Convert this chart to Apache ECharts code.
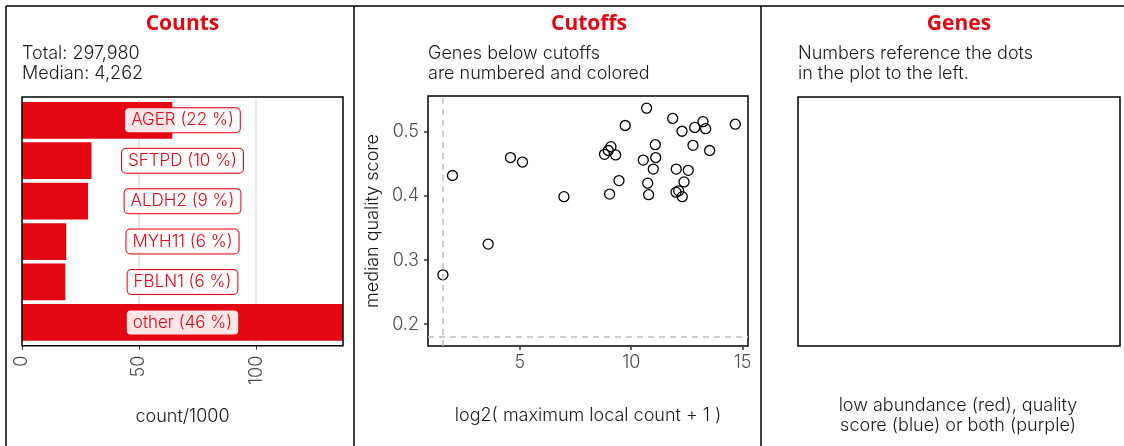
<!DOCTYPE html>
<html>
<head>
<meta charset="utf-8">
<script src="https://cdn.jsdelivr.net/npm/echarts@6/dist/echarts.min.js"></script>
<style>
  html, body { margin: 0; padding: 0; background: #fff; }
  #main { width: 1124px; height: 446px; }
</style>
</head>
<body>
<div id="main"></div>
<script>
// panel 1: counts per gene (count/1000)
var geneNames = ['AGER', 'SFTPD', 'ALDH2', 'MYH11', 'FBLN1', 'other'];
var geneCounts = [64.2, 29.7, 28.2, 18.9, 18.5, 137.1];
var genePercents = [22, 10, 9, 6, 6, 46];
var countTicks = [0, 50, 100];

// panel 2: cutoffs scatter
var logCounts = [1.55, 1.98, 3.58, 4.58, 5.12, 6.98,
    10.69, 9.73, 11.86, 12.28, 12.85, 13.22, 13.34, 14.67,
    11.08, 12.77, 13.52, 9.09, 8.97, 8.80, 9.30, 10.54,
    11.10, 10.99, 12.02, 12.56, 9.45, 10.74, 12.37, 9.03,
    10.78, 12.01, 12.13, 12.29];
var qualityScores = [0.277, 0.432, 0.325, 0.460, 0.453, 0.399,
    0.537, 0.510, 0.521, 0.501, 0.507, 0.516, 0.505, 0.512,
    0.480, 0.479, 0.471, 0.477, 0.471, 0.465, 0.464, 0.456,
    0.460, 0.442, 0.442, 0.440, 0.424, 0.420, 0.422, 0.403,
    0.402, 0.406, 0.408, 0.399];
var cutoffCount = 1.55;
var cutoffQuality = 0.184;
var xTicks = [5, 10, 15];
var yTicks = [0.2, 0.3, 0.4, 0.5];

var red = '#e30613';
var font = 'Inter';

var myChart = echarts.init(document.getElementById('main'));

var scatterData = [];
for (var i = 0; i < logCounts.length; i++) {
    scatterData.push([logCounts[i], qualityScores[i]]);
}
var labelData = [];
for (var i = 0; i < geneNames.length; i++) {
    labelData.push([137.1 / 2, geneNames[i]]);
}

function txt(x, y, text, opt) {
    return {
        type: 'text', x: x, y: y, z: 100,
        style: Object.assign({
            text: text, fill: '#1a1a1a', font: '300 18px "' + font + '"',
            lineHeight: 20, textAlign: 'left', textVerticalAlign: 'top'
        }, opt || {})
    };
}
function title(x, text) {
    return txt(x, 24, text, {
        fill: red, font: 'bold 21px "Open Sans"',
        textAlign: 'center', textVerticalAlign: 'middle'
    });
}
function vline(x) {
    return { type: 'line', z: 100, shape: { x1: x, y1: 6, x2: x, y2: 446 }, style: { stroke: '#000', lineWidth: 1.5 } };
}

var axisName = { fontSize: 18, fontWeight: 300, color: '#1a1a1a', fontFamily: font };
var tickLabel = { fontSize: 18, fontWeight: 300, color: '#4d4d4d', fontFamily: font };

var option = {
    animation: false,
    textStyle: { fontFamily: font },
    grid: [
        { left: 22, top: 100.1, width: 321, height: 242.5 },
        { left: 428, top: 96, width: 320, height: 250, show: true, borderColor: '#000', borderWidth: 1.5 },
        { left: 798, top: 97, width: 322, height: 249, show: true, borderColor: '#000', borderWidth: 1.5 }
    ],
    xAxis: [
        {
            gridIndex: 0, type: 'value', min: 0, max: 137.1, interval: 50, offset: 3.1,
            name: 'count/1000', nameLocation: 'middle', nameGap: 62,
            nameTextStyle: axisName,
            axisLine: { show: false },
            axisTick: { show: true, length: 4, lineStyle: { color: '#333' }, customValues: countTicks },
            axisLabel: Object.assign({ rotate: 90, margin: 10, customValues: countTicks }, tickLabel),
            splitLine: { show: true, lineStyle: { color: '#dedede', width: 1.5 } }
        },
        {
            gridIndex: 1, type: 'value', min: 0.88, max: 15.24,
            name: 'log2( maximum local count + 1 )', nameLocation: 'middle', nameGap: 61,
            nameTextStyle: axisName,
            axisLine: { show: false },
            axisTick: { show: true, length: 4, lineStyle: { color: '#333', width: 1.5 }, customValues: xTicks },
            axisLabel: Object.assign({ margin: 8, customValues: xTicks }, tickLabel),
            splitLine: { show: false }
        },
        { gridIndex: 2, type: 'value', show: false }
    ],
    yAxis: [
        {
            gridIndex: 0, type: 'category', data: geneNames, inverse: true,
            axisLine: { show: false }, axisTick: { show: false }, axisLabel: { show: false }
        },
        {
            gridIndex: 1, type: 'value', min: 0.166, max: 0.556,
            name: 'median quality score', nameLocation: 'middle', nameGap: 46,
            nameTextStyle: axisName,
            axisLine: { show: false },
            axisTick: { show: true, length: 4, lineStyle: { color: '#333', width: 1.5 }, customValues: yTicks },
            axisLabel: Object.assign({ margin: 9, customValues: yTicks,
                formatter: function (v) { return v.toFixed(1); } }, tickLabel),
            splitLine: { show: false }
        },
        { gridIndex: 2, type: 'value', show: false }
    ],
    series: [
        {
            type: 'bar', xAxisIndex: 0, yAxisIndex: 0, data: geneCounts,
            barCategoryGap: '9%', itemStyle: { color: red }
        },
        {
            type: 'scatter', xAxisIndex: 0, yAxisIndex: 0, data: labelData, z: 3,
            symbolSize: 0, silent: true, itemStyle: { opacity: 1 },
            label: {
                show: true, position: 'inside',
                formatter: function (p) { return geneNames[p.dataIndex] + ' (' + genePercents[p.dataIndex] + ' %)'; },
                color: red, fontSize: 17, fontWeight: 300, fontFamily: font,
                backgroundColor: 'rgba(255,255,255,0.9)', borderColor: red, borderWidth: 1,
                borderRadius: 4, padding: [4, 6, 3, 6]
            }
        },
        {
            type: 'scatter', xAxisIndex: 1, yAxisIndex: 1, data: scatterData,
            symbol: 'circle', symbolSize: 10,
            itemStyle: { color: 'rgba(0,0,0,0)', borderColor: '#000', borderWidth: 1.3, opacity: 1 },
            markLine: {
                silent: true, symbol: 'none', label: { show: false },
                lineStyle: { color: '#bdbdbd', type: [6, 5], width: 1.5 },
                data: [{ xAxis: cutoffCount }, { yAxis: cutoffQuality }]
            }
        }
    ],
    graphic: [
        { type: 'line', z: 100, shape: { x1: 6, y1: 6, x2: 1124, y2: 6 }, style: { stroke: '#000', lineWidth: 1.5 } },
        vline(6), vline(354), vline(761),
        { type: 'rect', z: 100, shape: { x: 22, y: 97, width: 321, height: 248.7 },
          style: { fill: 'none', stroke: '#000', lineWidth: 1.5 } },
        title(182.5, 'Counts'),
        title(589, 'Cutoffs'),
        title(959, 'Genes'),
        txt(22, 44, 'Total: 297,980\nMedian: 4,262'),
        txt(428, 44, 'Genes below cutoffs\nare numbered and colored'),
        txt(798, 44, 'Numbers reference the dots\nin the plot to the left.'),
        txt(958, 396, 'low abundance (red), quality\nscore (blue) or both (purple)', { textAlign: 'center' })
    ]
};

myChart.setOption(option);
</script>
</body>
</html>
